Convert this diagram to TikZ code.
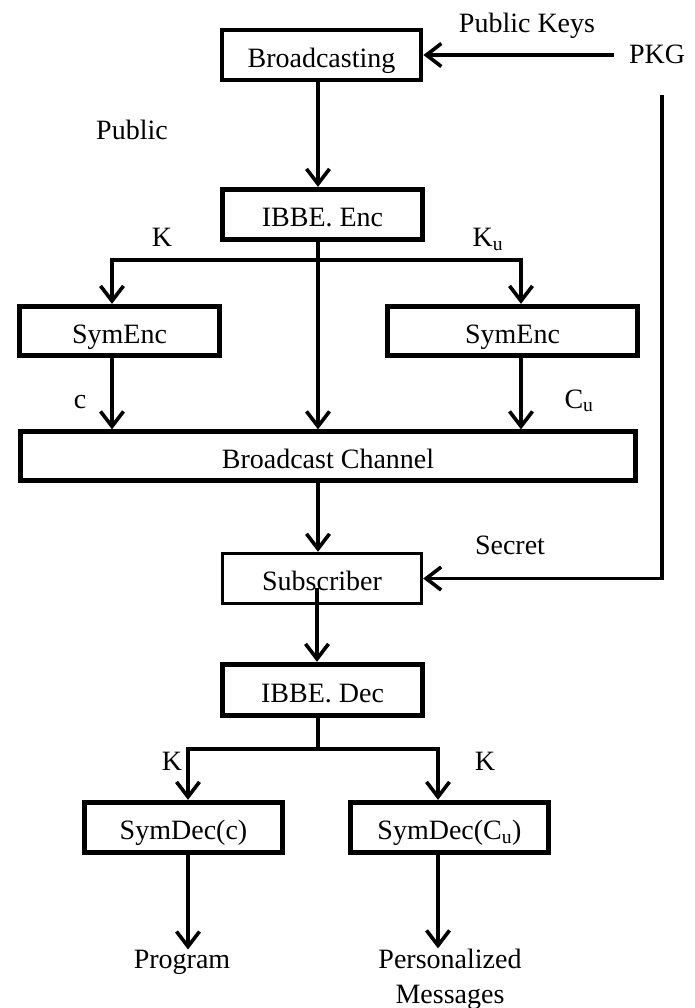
\documentclass[tikz,border=0pt]{standalone}
\usepackage{fontspec}
\setmainfont{Liberation Serif}
\usetikzlibrary{arrows.meta}
\begin{document}
\begin{tikzpicture}[x=1pt,y=-1pt,
  box/.style={draw, line width=4.8pt, rectangle, inner sep=0pt,
    text height=26pt, text depth=1.5pt, font=\fontsize{28}{30}\selectfont},
  thinbox/.style={box, line width=3.4pt},
  lbl/.style={anchor=base, inner sep=0pt, font=\fontsize{28}{30}\selectfont},
  conn/.style={line width=3.6pt},
  arr/.style={conn, -{Straight Barb[length=15pt,width=23pt]}},
  arrboth/.style={conn, {Straight Barb[length=15pt,width=23pt]}-{Straight Barb[length=15pt,width=23pt]}}
]
\useasboundingbox (0,0) rectangle (695,1008);

% boxes
\node[box, minimum width=199pt, minimum height=50pt] (bc) at (321.5,55) {Broadcasting};
\node[box, minimum width=200pt, minimum height=50.5pt] (enc) at (322.5,214.5) {IBBE. Enc};
\node[box, minimum width=200.5pt, minimum height=49.5pt] (symL) at (119.5,331) {SymEnc};
\node[box, minimum width=250.5pt, minimum height=49.5pt] (symR) at (512.5,331) {SymEnc};
\node[box, minimum width=615.5pt, minimum height=48.5pt] (chan) at (328,456) {Broadcast Channel};
\node[thinbox, minimum width=199pt, minimum height=50pt] (sub) at (322,578.5) {Subscriber};
\node[box, minimum width=200.5pt, minimum height=51.5pt] (dec) at (322.5,690) {IBBE. Dec};
\node[box, minimum width=198.5pt, minimum height=50.5pt] (sdc) at (183.5,827.5) {SymDec(c)};
\node[box, minimum width=198.5pt, minimum height=50.5pt] (sdu) at (449.5,827.5) {SymDec(C\textsubscript{u})};

% labels
\node[lbl] (pubkeys) at (527,33) {Public Keys};
\node[lbl, inner xsep=15pt] (pkg) at (657,64) {PKG};
\node[lbl] (public) at (132,140) {Public};
\node[lbl] (kL) at (162,246) {K};
\node[lbl] (kR) at (488,247) {K\textsubscript{u}};
\node[lbl] (cL) at (80,408) {c};
\node[lbl] (cu) at (579,408) {C\textsubscript{u}};
\node[lbl] (secret) at (510,554) {Secret};
\node[lbl] (kdL) at (172,770) {K};
\node[lbl] (kdR) at (485,770) {K};
\node[lbl] (prog) at (182,968) {Program};
\node[lbl] (pers) at (450,968) {Personalized};
\node[lbl] (msgs) at (450,1003) {Messages};

% helper coordinates
\coordinate (kl) at (112,260);
\coordinate (kr) at (521,260);
\coordinate (pkgdown) at (662,95);
\coordinate (dm) at (318,749);
\coordinate (dl) at (188,749);
\coordinate (dr) at (438,749);

% connectors
\draw[arr] (pkg.west |- bc.east) -- (bc.east);
\draw[arr] ([xshift=-3.5pt]bc.south) -- ([xshift=-3.5pt]bc.south |- enc.north);
\draw[arrboth] (kl |- symL.north) -- (kl) -- (kr) -- (kr |- symR.north);
\draw[arr] ([xshift=-4.5pt]enc.south) -- ([xshift=-4.5pt]enc.south |- chan.north);
\draw[arr] (kl |- symL.south) -- (kl |- chan.north);
\draw[arr] (kr |- symR.south) -- (kr |- chan.north);
\draw[arr] (dm |- chan.south) -- (dm |- sub.north);
\draw[arr] (pkgdown) -- (pkgdown |- sub.east) -- (sub.east);
\draw[arr] ([yshift=-9pt,xshift=-5pt]sub.center) -- ([xshift=-5pt]sub.center |- dec.north);
\draw[conn] (dm |- dec.south) -- (dm);
\draw[arrboth] (dl |- sdc.north) -- (dl) -- (dr) -- (dr |- sdu.north);
\draw[arr] (dl |- sdc.south) -- (dl |- prog.north);
\draw[arr] (dr |- sdu.south) -- (dr |- pers.north);
\end{tikzpicture}
\end{document}
